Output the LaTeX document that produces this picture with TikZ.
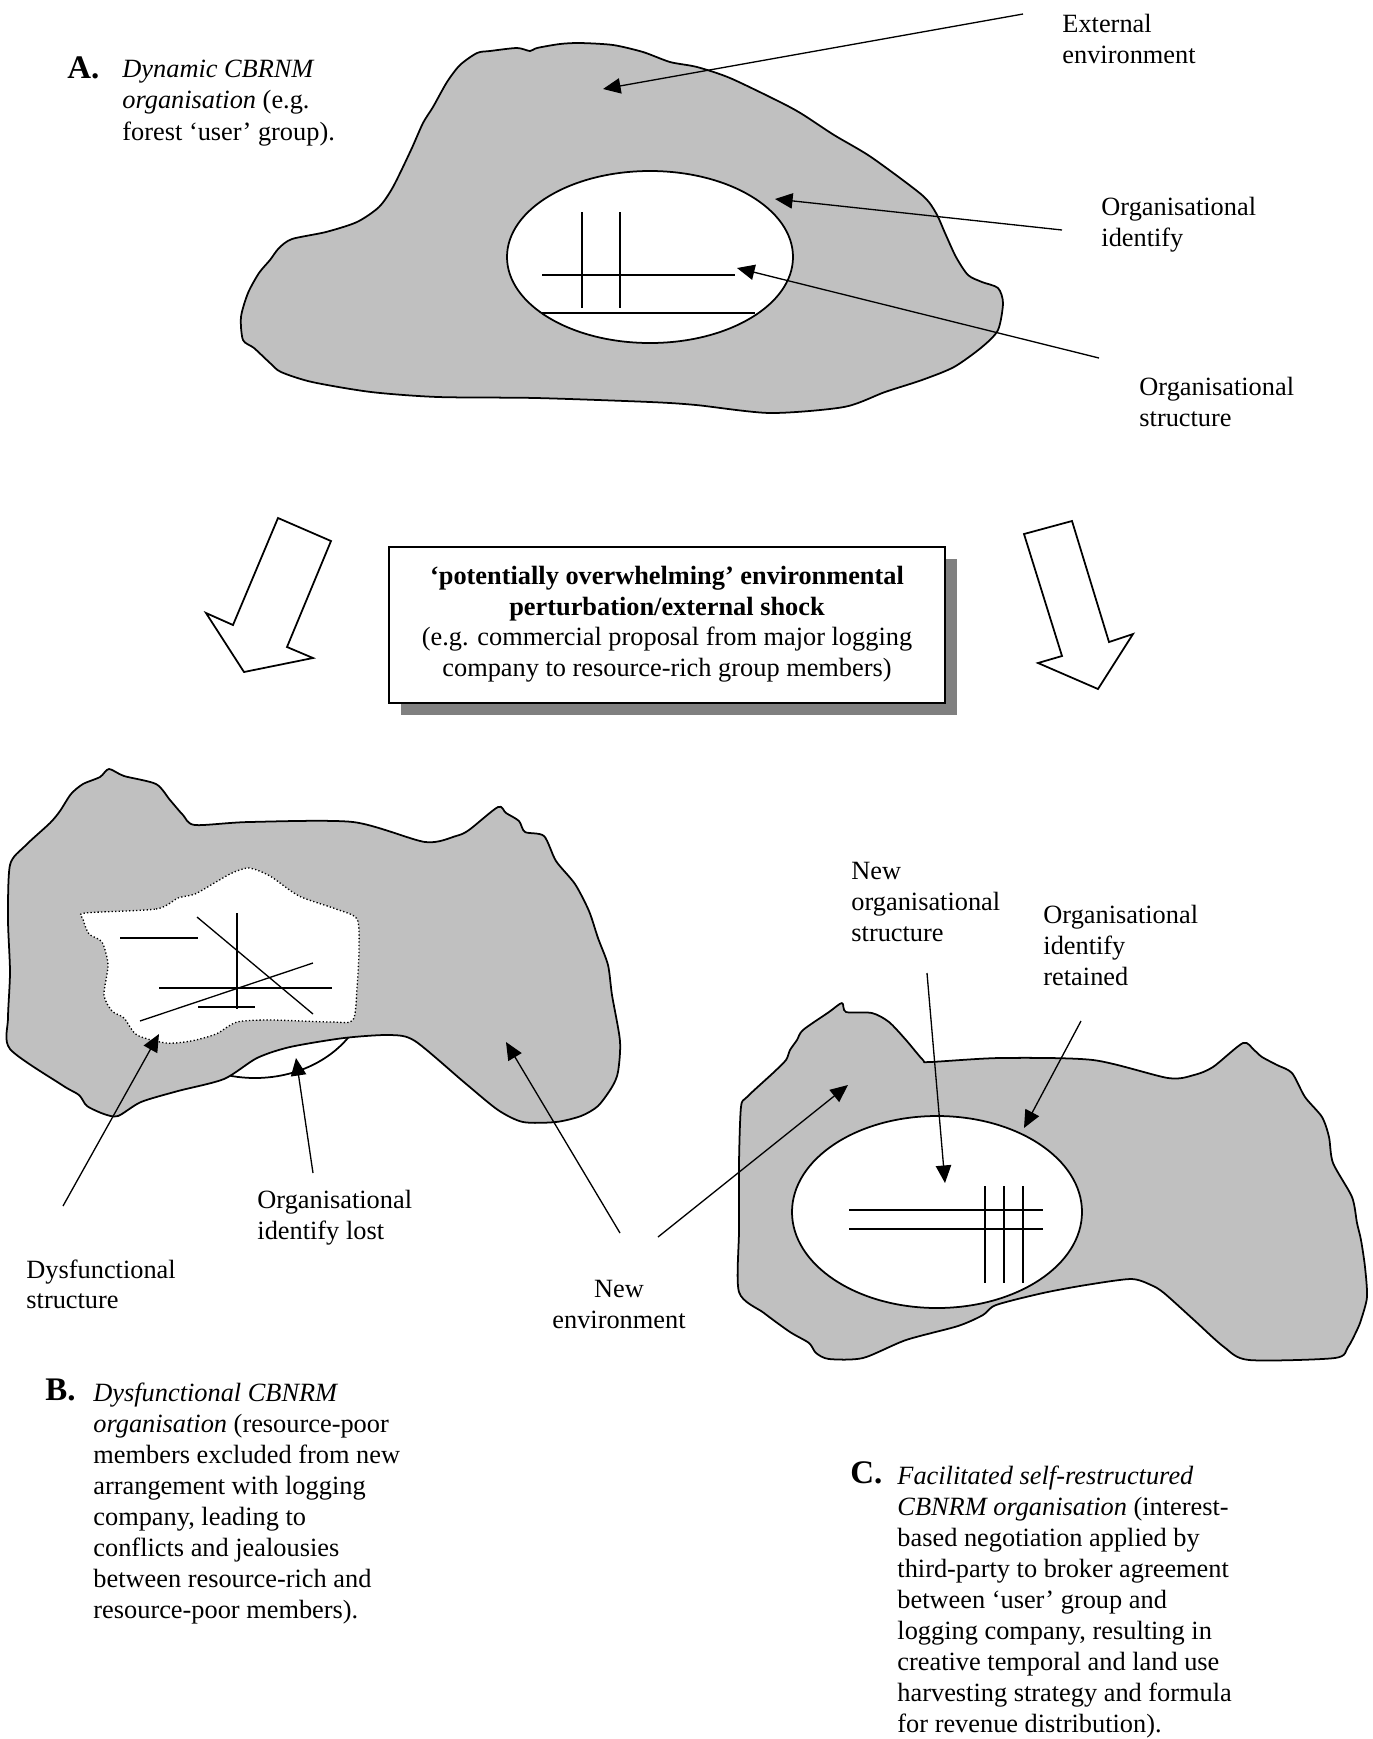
\documentclass[tikz,border=0pt]{standalone}
\usepackage{fontspec}
\setmainfont{Liberation Serif}
\definecolor{blobGray}{HTML}{C0C0C0}
\definecolor{shadowGray}{HTML}{808080}
\usetikzlibrary{arrows.meta, positioning, shadows}

\begin{document}
\begin{tikzpicture}[
    x=0.016cm, y=-0.016cm,
    blob/.style={fill=blobGray, draw=black, thick, line join=round},
    hole/.style={fill=white, draw=black, thick},
    lost/.style={fill=white, draw=black, semithick, densely dotted},
    struct/.style={draw=black, semithick},
    ptr/.style={-{Triangle[length=8pt,width=7pt]}, semithick},
    bigarr/.style={draw=black, fill=white, thick, line join=miter},
    lbl/.style={inner sep=0pt, anchor=north west, align=left, font=\fontsize{12pt}{14pt}\selectfont},
    para/.style={lbl, font=\fontsize{12pt}{14.15pt}\selectfont},
    head/.style={inner sep=0pt, anchor=base west, font=\fontsize{15pt}{17pt}\selectfont\bfseries},
    shockbox/.style={draw, thick, fill=white, minimum width=8.91cm, minimum height=2.5cm,
        drop shadow={shadow xshift=0.19cm, shadow yshift=-0.19cm, fill=shadowGray, opacity=1}},
    shocktxt/.style={inner sep=0pt, align=center, font=\fontsize{12pt}{13.9pt}\selectfont}
]
\useasboundingbox (0,0) rectangle (1373,1739);

% A: dynamic organisation
\draw[blob] plot[smooth cycle, tension=0.45] coordinates {(423,123) (433,107) (447,82) (460,65) (477,53) (490,51) (517,48) (530,51) (537,48) (560,44) (580,43) (613,45) (643,52) (670,62) (697,67) (730,78) (780,102) (802,114) (834,135) (871,157) (922,195) (936,213) (945,233) (956,257) (968,275) (982,282) (998,288) (1003,303) (998,330) (982,347) (954,367) (922,380) (885,392) (844,407) (770,413) (696,405) (650,402) (536,398) (438,397) (371,392) (312,382) (281,372) (270,363) (254,348) (243,340) (241,317) (248,293) (259,273) (270,260) (279,248) (292,239) (326,232) (357,222) (379,207) (393,187) (411,150)};
\draw[hole] (650,257) ellipse [x radius=143, y radius=86];
\draw[struct] (582,212) -- (582,308);
\draw[struct] (620,212) -- (620,308);
\draw[struct] (542,275) -- (735,275);
\draw[struct, thick] (542,313) -- (755,313);

\coordinate (extTail) at (1023,14);
\coordinate (extTip) at (603,89);
\coordinate (idTailA) at (1062,230);
\coordinate (idTipA) at (775,199);
\coordinate (strTailA) at (1099,358);
\coordinate (strTipA) at (737,268);
\draw[ptr] (extTail) -- (extTip);
\draw[ptr] (idTailA) -- (idTipA);
\draw[ptr] (strTailA) -- (strTipA);

% shock
\draw[bigarr] (278,518) -- (331,541) -- (287,647) -- (313,658) -- (244,672) -- (206,613) -- (233,625) -- cycle;
\draw[bigarr] (1024,534) -- (1072,521) -- (1109,642) -- (1133,634) -- (1098,689) -- (1038,663) -- (1062,656) -- cycle;
\node[shockbox] (shock) at (667,625) {};
\node[shocktxt] (shockText) at (667,624) {\textbf{‘potentially overwhelming’ environmental}\\\textbf{perturbation/external shock}\\(e.g. commercial proposal from major logging\\company to resource-rich group members)};

% B: dysfunctional organisation
\draw[hole] (255,985) ellipse [x radius=113, y radius=93];
\draw[blob] plot[smooth cycle, tension=0.45] coordinates {(109,769) (124,776) (156,784) (170,800) (183,815) (195,825) (249,822) (353,822) (425,842) (456,836) (469,830) (498,807) (506,813) (519,821) (525,832) (544,836) (556,861) (575,884) (589,911) (598,938) (608,965) (612,995) (620,1041) (618,1072) (612,1087) (598,1106) (581,1116) (556,1122) (523,1122) (498,1110) (465,1083) (415,1041) (390,1035) (344,1038) (290,1047) (257,1058) (224,1079) (178,1091) (141,1102) (118,1116) (104,1114) (87,1106) (79,1095) (62,1085) (10,1049) (8,1018) (10,972) (8,919) (10,865) (25,846) (50,823) (60,811) (71,794) (83,784) (100,777)};
\draw[lost] plot[smooth cycle, tension=0.45] coordinates {(85,913) (156,909) (178,898) (195,894) (216,882) (232,873) (249,868) (270,876) (299,896) (336,909) (357,919) (359,949) (357,988) (353,1020) (332,1022) (270,1020) (237,1022) (216,1034) (191,1041) (166,1043) (137,1035) (124,1018) (112,1011) (104,995) (108,965) (102,942) (89,934) (83,919)};
\draw[struct] (120,938) -- (198,938);
\draw[struct] (237,913) -- (237,1009);
\draw[struct] (197,917) -- (313,1014);
\draw[struct] (140,1021) -- (313,963);
\draw[struct] (159,988) -- (332,988);
\draw[struct] (198,1007) -- (255,1007);

\coordinate (dysTail) at (63,1206);
\coordinate (dysTip) at (159,1034);
\coordinate (lostTail) at (313,1173);
\coordinate (lostTip) at (296,1058);
\coordinate (envTailB) at (620,1233);
\coordinate (envTipB) at (506,1042);
\draw[ptr] (dysTail) -- (dysTip);
\draw[ptr] (lostTail) -- (lostTip);
\draw[ptr] (envTailB) -- (envTipB);

% C: self-restructured organisation
\draw[blob] plot[smooth cycle, tension=0.45] coordinates {(842,1003) (846,1012) (872,1013) (889,1022) (906,1040) (923,1060) (930,1062) (1000,1058) (1093,1060) (1168,1078) (1194,1075) (1213,1067) (1243,1043) (1254,1050) (1262,1057) (1277,1065) (1292,1073) (1305,1097) (1322,1117) (1329,1137) (1333,1163) (1352,1197) (1357,1223) (1361,1240) (1365,1267) (1367,1297) (1361,1320) (1357,1330) (1348,1347) (1335,1358) (1249,1360) (1224,1347) (1194,1320) (1164,1293) (1151,1285) (1131,1279) (1086,1285) (1043,1293) (996,1305) (983,1315) (958,1326) (906,1340) (863,1358) (829,1359) (816,1353) (809,1343) (790,1332) (764,1313) (739,1292) (739,1230) (739,1163) (741,1107) (747,1097) (773,1073) (786,1060) (790,1050) (797,1040) (803,1030) (829,1012)};
\draw[hole] (937,1212) ellipse [x radius=145, y radius=96];
\draw[struct] (849,1210) -- (1043,1210);
\draw[struct] (849,1229) -- (1043,1229);
\draw[struct] (985,1186) -- (985,1283);
\draw[struct] (1004,1186) -- (1004,1283);
\draw[struct] (1023,1186) -- (1023,1283);

\coordinate (envTailC) at (658,1237);
\coordinate (envTipC) at (848,1085);
\coordinate (newStrTail) at (927,973);
\coordinate (newStrTip) at (945,1183);
\coordinate (retTail) at (1081,1021);
\coordinate (retTip) at (1024,1128);
\draw[ptr] (envTailC) -- (envTipC);
\draw[ptr] (newStrTail) -- (newStrTip);
\draw[ptr] (retTail) -- (retTip);

% labels
\node[head] (headA) at (67,78) {A.};
\node[para] (textA) at (122,60) {\textit{Dynamic CBRNM}\\\textit{organisation} (e.g.\\forest ‘user’ group).};
\node[lbl] (extLbl) at (1062,14) {External\\environment};
\node[lbl] (idLblA) at (1101,197) {Organisational\\identify};
\node[lbl] (strLblA) at (1139,377) {Organisational\\structure};
\node[lbl] (dysLbl) at (26,1259) {Dysfunctional\\structure};
\node[lbl] (lostLbl) at (257,1190) {Organisational\\identify lost};
\node[lbl, anchor=north, align=center] (envLbl) at (619,1280) {New\\environment};
\node[lbl] (newStrLbl) at (851,862) {New\\organisational\\structure};
\node[lbl] (retLbl) at (1043,905) {Organisational\\identify\\retained};

\node[head] (headB) at (45,1400) {B.};
\node[para] (textB) at (93,1382) {\textit{Dysfunctional CBNRM}\\\textit{organisation} (resource-poor\\members excluded from new\\arrangement with logging\\company, leading to\\conflicts and jealousies\\between resource-rich and\\resource-poor members).};
\node[head] (headC) at (850,1483) {C.};
\node[para] (textC) at (897,1465) {\textit{Facilitated self-restructured}\\\textit{CBNRM organisation} (interest-\\based negotiation applied by\\third-party to broker agreement\\between ‘user’ group and\\logging company, resulting in\\creative temporal and land use\\harvesting strategy and formula\\for revenue distribution).};
\end{tikzpicture}
\end{document}
